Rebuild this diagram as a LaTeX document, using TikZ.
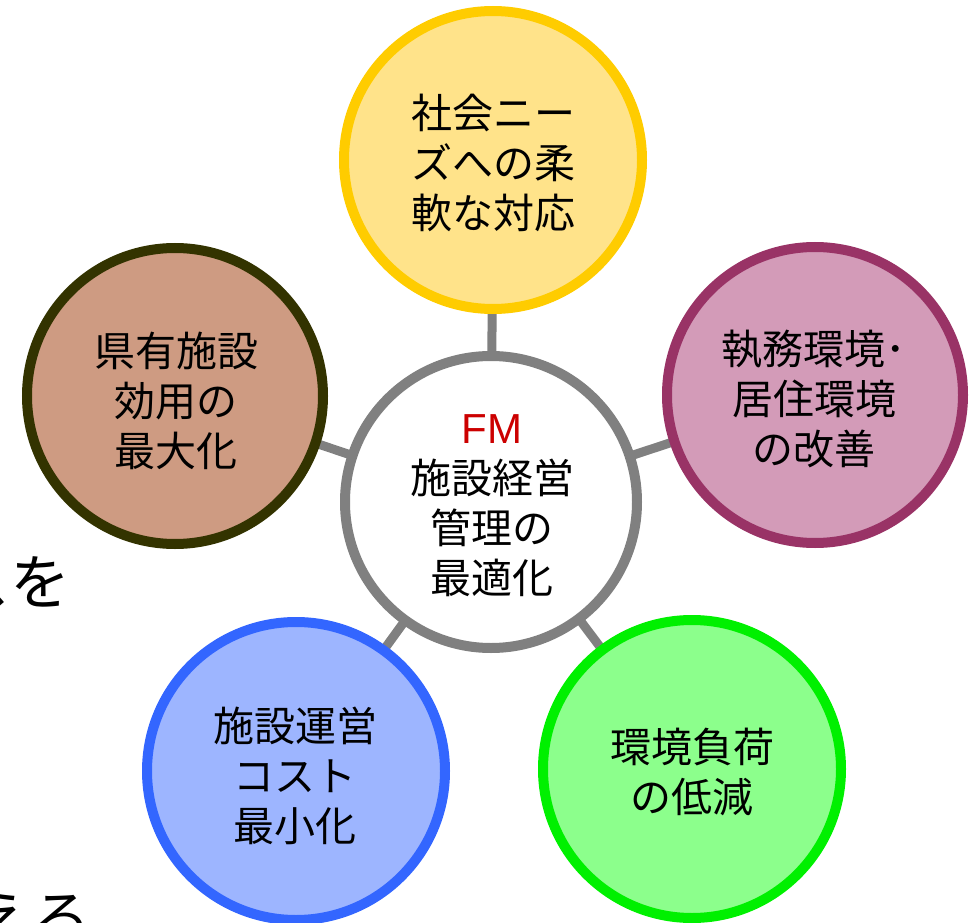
\documentclass[tikz,border=0pt]{standalone}
\usepackage{fontspec}
\setmainfont{Liberation Sans}
\newfontfamily\jp{Noto Sans CJK JP}
\usetikzlibrary{backgrounds}
\definecolor{grayc}{HTML}{808080}
\definecolor{yelS}{HTML}{FFCC00}
\definecolor{yelF}{HTML}{FFE38A}
\definecolor{magS}{HTML}{993366}
\definecolor{magF}{HTML}{D39BB8}
\definecolor{brnS}{HTML}{333300}
\definecolor{brnF}{HTML}{CE9B82}
\definecolor{bluS}{HTML}{3366FF}
\definecolor{bluF}{HTML}{9DB5FF}
\definecolor{grnS}{HTML}{00F000}
\definecolor{grnF}{HTML}{8CFF8C}
\definecolor{fmred}{HTML}{CC0000}
\tikzset{
  ring/.style={circle, line width=10pt, minimum size=#1, inner sep=0pt},
  txt/.style={inner sep=0pt, align=center, font=\jp\fontsize{41}{50}\selectfont},
  conn/.style={draw=grayc, line width=9pt},
  frag/.style={inner sep=0pt, font=\jp\fontsize{60}{60}\selectfont}
}
\begin{document}
\begin{tikzpicture}[x=1pt,y=-1pt]
\useasboundingbox (0,0) rectangle (970,923);
\begin{scope}
\clip (0,0) rectangle (970,923);
\node[frag] (fragA) at (11,582) {スを};
\node[frag, anchor=base] (fragB) at (32,940) {える};
\end{scope}
\node[ring=292pt, draw=grayc, fill=white] (c) at (491,502) {};
\node[ring=298pt, draw=yelS, fill=yelF] (y) at (493,160) {};
\node[ring=296pt, draw=magS, fill=magF] (m) at (815,395) {};
\node[ring=296pt, draw=brnS, fill=brnF] (b) at (175,396) {};
\node[ring=298pt, draw=bluS, fill=bluF] (u) at (296,771) {};
\node[ring=298pt, draw=grnS, fill=grnF] (g) at (692,769) {};
\node[txt] (ct) at (492,506)
  {{\rmfamily\fontsize{42}{42}\selectfont\color{fmred}FM}\\[0pt]施設経営\\管理の\\最適化};
\node[txt] (yt) at (493,163) {社会ニー\\ズへの柔\\軟な対応};
\node[txt] (mt) at (814,399) {執務環境･\\居住環境\\の改善};
\node[txt] (bt) at (176,401) {県有施設\\効用の\\最大化};
\node[txt] (ut) at (295,776) {施設運営\\コスト\\最小化};
\node[txt] (gt) at (692,772) {環境負荷\\の低減};
\begin{scope}[on background layer]
\draw[conn] (c.center) -- (y.center);
\draw[conn] (c.center) -- (m.center);
\draw[conn] (c.center) -- (b.center);
\draw[conn] (c.center) -- (u.center);
\draw[conn] (c.center) -- (g.center);
\end{scope}
\end{tikzpicture}
\end{document}
